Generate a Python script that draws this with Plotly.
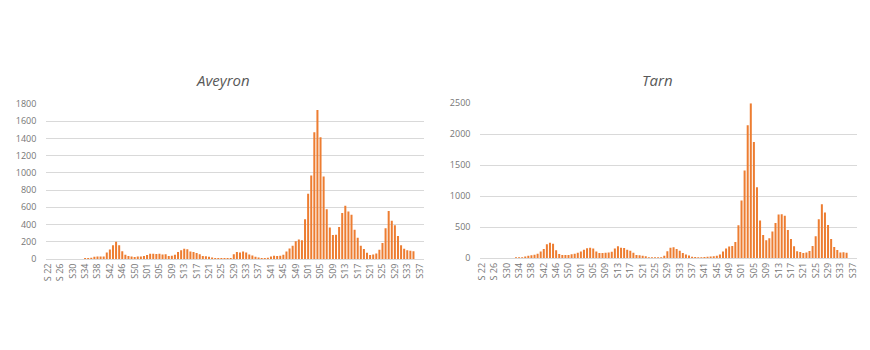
import plotly.graph_objects as go

# Weekly categories: 2020 S22-S53, 2021 S01-S52, 2022 S01-S38
weeks_2020 = [f"2020-S{w:02d}" for w in range(22, 54)]
weeks_2021 = [f"2021-S{w:02d}" for w in range(1, 53)]
weeks_2022 = [f"2022-S{w:02d}" for w in range(1, 39)]
weeks = weeks_2020 + weeks_2021 + weeks_2022

# Axis labels shown every fourth week
tick_text = ["S 22", "S 26", "S30", "S34", "S38", "S42", "S46", "S50",
             "S01", "S05", "S09", "S13", "S17", "S21", "S25", "S29", "S33",
             "S37", "S41", "S45", "S49",
             "S01", "S05", "S09", "S13", "S17", "S21", "S25", "S29", "S33", "S37"]
tick_vals = weeks[0:124:4][:len(tick_text)]

aveyron = [
    # 2020 S22-S53
    0, 0, 0, 0, 0, 0, 0, 0, 0, 0, 0, 0, 3, 8, 15, 25, 30, 30, 28, 75,
    110, 160, 200, 160, 90, 50, 35, 30, 22, 30, 30, 35,
    # 2021 S01-S52
    45, 60, 60, 58, 62, 52, 55, 35, 38, 50, 80, 100, 120, 112, 88, 82,
    68, 55, 35, 32, 25, 17, 12, 8, 4, 2, 2, 12, 55, 82, 76, 88,
    76, 52, 40, 25, 17, 12, 12, 14, 30, 37, 36, 38, 50, 88, 122, 154,
    205, 227, 218, 460,
    # 2022 S01-S38
    758, 968, 1472, 1730, 1413, 958, 577, 366, 278, 282, 370, 533, 619, 552,
    514, 340, 246, 155, 116, 71, 47, 53, 65, 108, 185, 356, 556, 445,
    393, 266, 158, 119, 100, 97, 90, None, None, None,
]

tarn = [
    # 2020 S22-S53
    0, 0, 0, 0, 0, 0, 0, 0, 0, 0, 0, 5, 12, 18, 28, 42, 50, 58, 72, 108,
    150, 228, 250, 235, 130, 70, 55, 55, 55, 65, 75, 90,
    # 2021 S01-S52
    108, 140, 162, 170, 160, 110, 85, 85, 90, 95, 105, 160, 195, 170, 168, 140,
    120, 88, 55, 50, 42, 35, 15, 10, 8, 5, 10, 40, 115, 170, 180, 150,
    120, 85, 62, 45, 25, 20, 18, 15, 20, 25, 28, 33, 40, 60, 110, 158,
    190, 200, 262, 535,
    # 2022 S01-S38
    932, 1418, 2146, 2500, 1876, 1144, 608, 375, 292, 322, 433, 570, 705, 712,
    686, 457, 313, 194, 114, 100, 84, 94, 119, 198, 354, 628, 870, 737,
    536, 313, 183, 135, 95, 98, 90, None, None, None,
]

BAR = "#ED7D31"
GRID = "#D9D9D9"
TITLE = "#595959"
TICK = "#767676"
FONT = "Open Sans"

W, H = 870, 350


def px_x(v):
    return v / W


def px_y(v):
    return 1 - v / H


fig = go.Figure()
fig.add_trace(go.Bar(x=weeks, y=aveyron, marker=dict(color=BAR, line=dict(width=0)),
                     xaxis="x", yaxis="y", showlegend=False))
fig.add_trace(go.Bar(x=weeks, y=tarn, marker=dict(color=BAR, line=dict(width=0)),
                     xaxis="x2", yaxis="y2", showlegend=False))

xcommon = dict(
    type="category", categoryorder="array", categoryarray=weeks,
    range=[-0.5, len(weeks) - 0.5],
    tickmode="array", tickvals=tick_vals, ticktext=tick_text,
    tickangle=-90, tickfont=dict(family=FONT, size=9, color=TICK),
    showgrid=False, showline=True, linecolor=GRID, linewidth=1,
    ticks="", zeroline=False, fixedrange=True,
)
ycommon = dict(
    showgrid=True, gridcolor=GRID, gridwidth=1, zeroline=False,
    showline=False, ticks="", tickfont=dict(family=FONT, size=9, color=TICK),
    ticklabelstandoff=9, fixedrange=True,
)

fig.update_layout(
    width=W, height=H,
    margin=dict(l=0, r=0, t=0, b=0),
    paper_bgcolor="white", plot_bgcolor="white",
    bargap=0.35,
    xaxis=dict(domain=[px_x(40.7), px_x(421.7)], anchor="y", **xcommon),
    yaxis=dict(domain=[px_y(261.7), px_y(100.7)], anchor="x",
               range=[0, 1800], dtick=200, **ycommon),
    xaxis2=dict(domain=[px_x(478.3), px_x(858.3)], anchor="y2", **xcommon),
    yaxis2=dict(domain=[px_y(261.0), px_y(100.0)], anchor="x2",
                range=[0, 2500], dtick=500, **ycommon),
    annotations=[
        dict(text="<i>Aveyron</i>", x=px_x(219), y=px_y(76), xref="paper", yref="paper",
             xanchor="center", yanchor="middle", showarrow=False,
             font=dict(family=FONT, size=15, color=TITLE)),
        dict(text="<i>Tarn</i>", x=px_x(657), y=px_y(76), xref="paper", yref="paper",
             xanchor="center", yanchor="middle", showarrow=False,
             font=dict(family=FONT, size=15, color=TITLE)),
    ],
)

fig.write_html("out.html")
